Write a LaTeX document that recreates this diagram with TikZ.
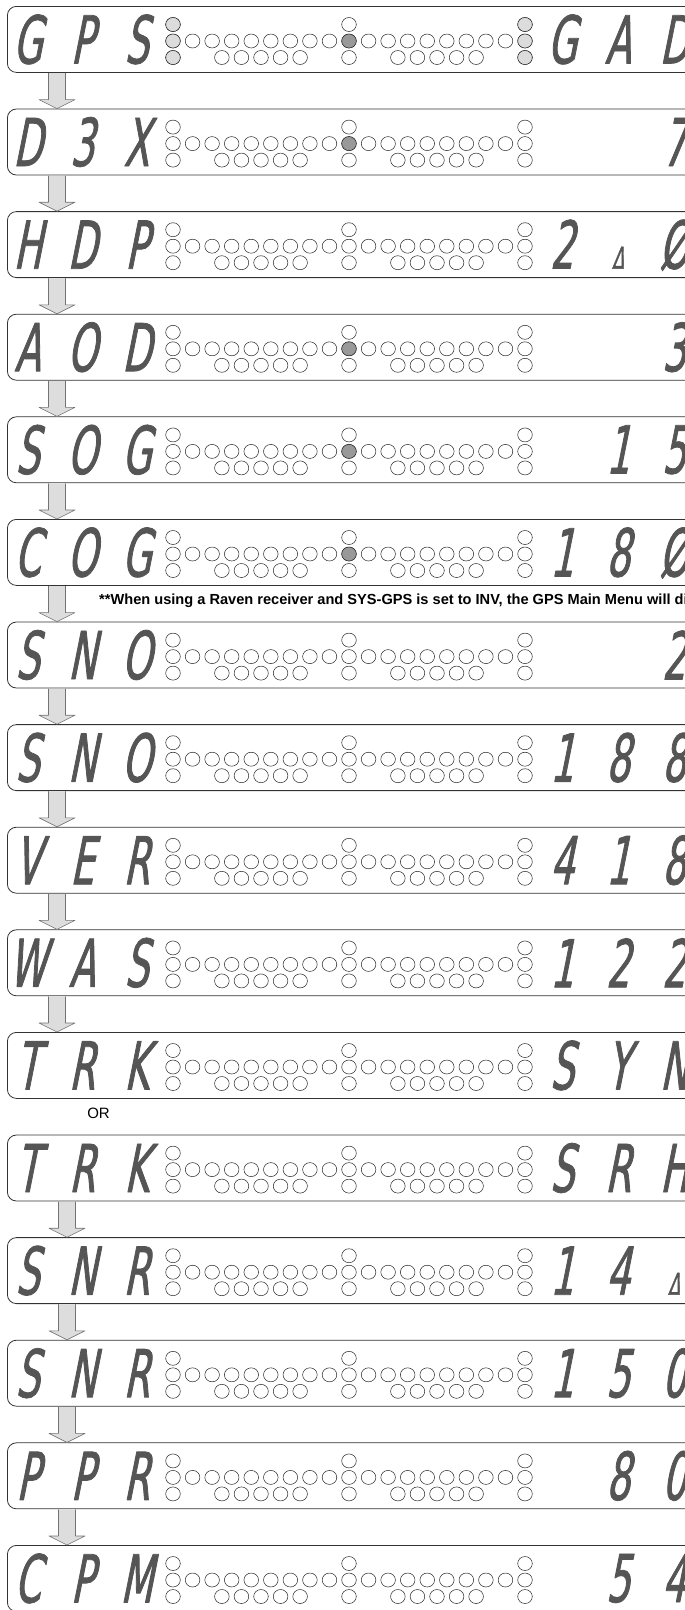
\documentclass[tikz,border=0pt]{standalone}
\usepackage{fontspec}
\setmainfont{Liberation Sans}
\newfontfamily\lcdfont[FakeStretch=0.57,FakeSlant=0.2,FakeBold=1.2]{DejaVu Sans}
\usetikzlibrary{calc}
\definecolor{seggray}{HTML}{555555}
\definecolor{arrowfill}{HTML}{DDDDDD}
\definecolor{dotfill}{HTML}{999999}
\definecolor{sidefill}{HTML}{DCDCDC}
\newlength\lcdw
\newcommand\lcdcell[1]{\makebox[\lcdw][c]{#1}}
\newcommand\lcdtext[3]{\lcdcell{#1}\lcdcell{#2}\lcdcell{#3}}
\newcommand\lcdpt{{\fontsize{30}{30}\selectfont Δ}}

\begin{document}
\begin{tikzpicture}[x=1pt,y=-1pt,line cap=round,line join=round,
  panel/.style={draw=black!80,line width=0.8pt,rounded corners=9pt,
    minimum width=720pt,minimum height=66pt,inner sep=0pt,anchor=north west},
  lcd/.style={inner sep=0pt,text=seggray,font=\lcdfont\fontsize{66}{66}\selectfont},
  lcdleft/.style={lcd,execute at begin node=\setlength\lcdw{54.5pt}},
  lcdright/.style={lcd,execute at begin node=\setlength\lcdw{56pt}},
  dot/.style={draw=black!85,line width=0.5pt,fill=white},
  blockarrow/.style={draw=black!55,line width=0.6pt,fill=arrowfill},
  note/.style={anchor=west,inner sep=0pt,font=\bfseries\fontsize{14.6}{16}\selectfont},
  ortext/.style={inner sep=0pt,font=\fontsize{15}{17}\selectfont}]
  \useasboundingbox (0,0) rectangle (685,1610);
  \clip (0,0) rectangle (685,1610);
  \foreach \k/\lt/\rt/\mk in {
    0/{\lcdtext{G}{P}{S}}/{\lcdtext{G}{A}{D}}/2,
    1/{\lcdtext{D}{3}{X}}/{\lcdtext{}{}{7}}/1,
    2/{\lcdtext{H}{D}{P}}/{\lcdtext{2}{\lcdpt}{Ø}}/0,
    3/{\lcdtext{A}{O}{D}}/{\lcdtext{}{}{3}}/1,
    4/{\lcdtext{S}{O}{G}}/{\lcdtext{}{1}{5}}/1,
    5/{\lcdtext{C}{O}{G}}/{\lcdtext{1}{8}{Ø}}/1,
    6/{\lcdtext{S}{N}{O}}/{\lcdtext{}{}{2}}/0,
    7/{\lcdtext{S}{N}{O}}/{\lcdtext{1}{8}{8}}/0,
    8/{\lcdtext{V}{E}{R}}/{\lcdtext{4}{1}{8}}/0,
    9/{\lcdtext{W}{A}{S}}/{\lcdtext{1}{2}{2}}/0,
    10/{\lcdtext{T}{R}{K}}/{\lcdtext{S}{Y}{N}}/0,
    11/{\lcdtext{T}{R}{K}}/{\lcdtext{S}{R}{H}}/0,
    12/{\lcdtext{S}{N}{R}}/{\lcdtext{1}{4}{\lcdpt}}/0,
    13/{\lcdtext{S}{N}{R}}/{\lcdtext{1}{5}{0}}/0,
    14/{\lcdtext{P}{P}{R}}/{\lcdtext{}{8}{0}}/0,
    15/{\lcdtext{C}{P}{M}}/{\lcdtext{}{5}{4}}/0}{
    \node[panel] (p\k) at (7,{6+102.6*\k}) {};
    \node[lcdleft] (l\k) at ($(p\k.west)+(75,0)$) {\lt};
    \node[lcdright] (r\k) at ($(p\k.west)+(611,0)$) {\rt};
    \begin{scope}[shift={(p\k.north west)}]
      \foreach \cx in {166,342,518}
        \foreach \cy in {18.5,35,51.5}
          \draw[dot] (\cx,\cy) ellipse (7.3 and 7);
      \foreach \j in {1,...,8} {
        \draw[dot] ({166+19.56*\j},35) ellipse (7.3 and 7);
        \draw[dot] ({342+19.56*\j},35) ellipse (7.3 and 7);
      }
      \foreach \j in {-2,...,2} {
        \draw[dot] ({254+19.56*\j},51.5) ellipse (7.3 and 7);
        \draw[dot] ({430+19.56*\j},51.5) ellipse (7.3 and 7);
      }
      \ifnum\mk>0 \draw[dot,fill=dotfill] (342,35) ellipse (7.3 and 7); \fi
      \ifnum\mk>1
        \foreach \cx in {166,518}
          \foreach \cy in {18.5,35,51.5}
            \draw[dot,fill=sidefill] (\cx,\cy) ellipse (7.3 and 7);
      \fi
    \end{scope}
  }
  \foreach \a/\b/\ax in {0/1/57,1/2/57,2/3/57,3/4/57,4/5/57,5/6/57,6/7/57,
      7/8/57,8/9/57,9/10/57,11/12/67,12/13/67,13/14/67,14/15/67}{
    \coordinate (s) at ($(p\a.south west)+({\ax-7},0)$);
    \coordinate (t) at ($(p\b.north west)+({\ax-7},0)$);
    \draw[blockarrow] ($(s)+(-8.5,0.4)$) -- ($(t)+(-8.5,-9)$) -- ($(t)+(-18,-9)$) -- (t)
      -- ($(t)+(18,-9)$) -- ($(t)+(8.5,-9)$) -- ($(s)+(8.5,0.4)$);
  }
  \node[note] (note) at (99,601) {**When using a Raven receiver and SYS-GPS is set to INV, the GPS Main Menu will dis};
  \node[ortext] (or) at (98.5,1113) {OR};
\end{tikzpicture}
\end{document}
